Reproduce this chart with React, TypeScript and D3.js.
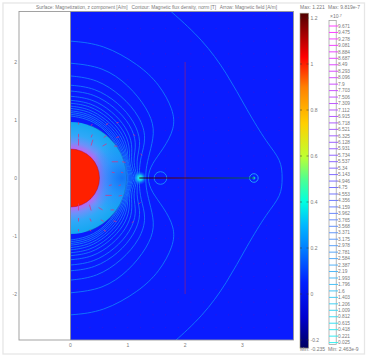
import React from "react";
import * as d3 from "d3";

const title = "Surface: Magnetization, z component [A/m]   Contour: Magnetic flux density, norm [T]   Arrow: Magnetic field [A/m]";
const xTicks = [0, 1, 2, 3];
const yTicks = [-2, -1, 0, 1, 2];
const barTicks = [1.2, 1, 0.8, 0.6, 0.4, 0.2, 0, -0.2];
const barStops: [number, string][] = [
  [1.221, "#500000"], [1.03, "#ff0000"], [0.9, "#ff8000"], [0.74, "#ffd000"], [0.6, "#c0ff30"],
  [0.5, "#50ff90"], [0.4, "#00ffe0"], [0.3, "#00b8ff"], [0.2, "#0080ff"], [0.05, "#0020ff"],
  [-0.1, "#0000d0"], [-0.235, "#000060"],
];
const contourLabels = ["9.671","9.475","9.278","9.081","8.884","8.687","8.49","8.293","8.096","7.9","7.703","7.506","7.309","7.112","6.915","6.718","6.521","6.325","6.128","5.931","5.734","5.537","5.34","5.143","4.946","4.75","4.553","4.356","4.159","3.962","3.765","3.568","3.371","3.175","2.978","2.781","2.584","2.387","2.19","1.993","1.796","1.6","1.403","1.206","1.009","0.812","0.615","0.418","0.221","0.025"];

// upper-half contours in data coordinates, mirrored across y = 0 when drawn
const contours: [number, number][][] = [
  [[1.6, 3.0], [1.77, 2.86], [2.31, 2.38], [2.73, 1.81], [3.08, 1.17], [3.43, 0.6], [3.68, 0.31], [3.7, 0]],
  [[0, 2.36], [0.57, 2.31], [1.2, 1.95], [1.55, 1.62], [1.8, 1.17], [1.82, 0.85], [1.62, 0.5], [1.42, 0.25], [1.33, 0]],
  [[0, 1.98], [0.57, 1.92], [1.02, 1.6], [1.34, 1.2], [1.48, 0.85], [1.4, 0.5], [1.32, 0.2], [1.31, 0]],
  [[0, 1.76], [0.46, 1.71], [0.9, 1.42], [1.22, 1.05], [1.33, 0.68], [1.22, 0.36], [1.2, 0.1], [1.2, 0]],
  [[0, 1.6], [0.42, 1.56], [0.84, 1.3], [1.12, 0.97], [1.24, 0.62], [1.15, 0.34], [1.17, 0.1], [1.18, 0]],
  [[0, 1.5], [0.4, 1.46], [0.78, 1.22], [1.05, 0.92], [1.16, 0.6], [1.09, 0.32], [1.14, 0.1], [1.17, 0]],
  [[0, 1.41], [0.38, 1.37], [0.73, 1.15], [0.98, 0.87], [1.09, 0.57], [1.05, 0.3], [1.11, 0.1], [1.15, 0]],
  [[0, 1.34], [0.36, 1.3], [0.69, 1.09], [0.93, 0.83], [1.04, 0.55], [1.02, 0.28], [1.08, 0.1], [1.12, 0]],
  [[0, 1.29], [0.34, 1.25], [0.66, 1.05], [0.89, 0.8], [1.0, 0.53], [1.0, 0.27], [1.06, 0.1], [1.09, 0]],
  [[0, 1.24], [0.32, 1.2], [0.63, 1.01], [0.86, 0.77], [0.97, 0.51], [0.99, 0.26], [1.04, 0.1], [1.07, 0]],
  [[0, 1.2], [0.31, 1.16], [0.61, 0.98], [0.83, 0.74], [0.95, 0.49], [0.98, 0.25], [1.02, 0.1], [1.05, 0]],
  [[0, 1.16], [0.3, 1.12], [0.59, 0.95], [0.8, 0.72], [0.93, 0.47], [0.97, 0.24], [1.0, 0.1], [1.03, 0]],
  [[0, 1.13], [0.29, 1.09], [0.57, 0.93], [0.78, 0.7], [0.91, 0.46], [0.96, 0.23], [0.99, 0.1], [1.01, 0]],
  [[0, 1.1], [0.28, 1.06], [0.55, 0.91], [0.76, 0.68], [0.89, 0.45], [0.95, 0.22], [0.98, 0.1], [1.0, 0]],
  [[0, 1.07], [0.27, 1.03], [0.54, 0.89], [0.74, 0.67], [0.88, 0.44], [0.95, 0.21], [0.97, 0.1], [0.99, 0]],
];

const arrowXs = [0.12, 0.34, 0.56, 0.78, 1.0, 1.22, 1.44, 1.66, 1.88, 2.1, 2.32, 2.54, 2.76, 2.98, 3.2, 3.42, 3.64, 3.86];
const arrowYs = [2.8, 2.58, 2.36, 2.14, 1.92, 1.7, 1.48, 1.26, 1.04, 0.82, 0.6, 0.38, 0.16, -0.16, -0.38, -0.6, -0.82, -1.04, -1.26, -1.48, -1.7, -1.92, -2.14, -2.36, -2.58, -2.8];
// strong field arrows: x, y, dx, dy in data units
const strongArrows: [number, number, number, number][] = [
  [0.14, 0.92, 0, 0.04], [0.36, 0.9, 0.02, 0.03], [0.62, 0.92, 0.04, 0.02], [0.8, 0.95, 0.04, 0.01],
  [0.14, 0.7, 0, 0.06], [0.36, 0.7, 0.02, 0.05], [0.58, 0.7, 0.05, 0.03], [0.8, 0.7, 0.05, 0.01],
  [0.14, 0.56, 0, 0.12], [0.36, 0.56, 0.03, 0.1], [0.56, 0.55, 0.07, 0.04], [0.76, 0.55, 0.06, 0],
  [0.72, 0.28, 0.11, 0], [0.9, 0.28, 0.06, -0.01], [0.72, 0.1, 0.05, -0.01], [0.88, 0.1, 0.04, -0.01],
  [0.72, -0.12, -0.05, -0.01], [0.88, -0.12, -0.04, -0.01], [0.72, -0.3, -0.11, 0], [0.9, -0.3, -0.06, -0.01],
  [0.14, -0.56, 0, 0.12], [0.36, -0.56, -0.03, 0.1], [0.56, -0.55, -0.07, 0.04], [0.76, -0.55, -0.06, 0],
  [0.14, -0.75, 0, 0.06], [0.36, -0.75, -0.02, 0.05], [0.58, -0.75, -0.05, 0.03], [0.8, -0.75, -0.05, 0.01],
  [0.14, -0.92, 0, 0.04], [0.36, -0.92, -0.02, 0.03], [0.62, -0.92, -0.04, 0.02],
  [1.1, 0.75, 0.03, -0.02], [1.22, 0.42, 0.03, -0.03], [1.1, -0.75, -0.03, -0.02], [1.22, -0.42, -0.03, -0.03],
];

const x = d3.scaleLinear().domain([0, 1]).range([70.5, 127.8]);
const y = d3.scaleLinear().domain([0, 1]).range([178, 120]);
const yBar = d3.scaleLinear().domain([-0.2, 1.2]).range([340, 18]);
const yLevel = d3.scalePoint<string>().domain(contourLabels).range([26, 342.6]);
const levelColor = d3.scaleLinear<string>()
  .domain([0, 0.5, 1])
  .range(["#ff40ff", "#7a70ff", "#30f0f0"]);
const line = d3.line<[number, number]>().x((p) => x(p[0])).y((p) => y(p[1])).curve(d3.curveBasis);

const GRAY = "#7a7a7a";
const FONT = "'Liberation Sans', Arial, sans-serif";

export default function App() {
  const mirrored = (c: [number, number][]) => [...c, ...c.slice(0, -1).reverse().map((p) => [p[0], -p[1]] as [number, number])];
  const barTop = yBar(1.221);
  const barBot = yBar(-0.235);
  return (
    <svg width={367} height={357} style={{ position: "fixed", left: 0, top: 0, background: "#fff" }} fontFamily={FONT}>
      <defs>
        <clipPath id="plot"><rect x={70.5} y={11.5} width={223} height={328.5} /></clipPath>
        <clipPath id="shellClip"><circle cx={x(0)} cy={y(0)} r={56} /></clipPath>
        <linearGradient id="bar" x1="0" y1={barTop} x2="0" y2={barBot} gradientUnits="userSpaceOnUse">
          {barStops.map(([v, c]) => (
            <stop key={v} offset={(yBar(v) - barTop) / (barBot - barTop)} stopColor={c} />
          ))}
        </linearGradient>
        <radialGradient id="shell" gradientUnits="userSpaceOnUse" cx={x(0)} cy={y(0)} r={57}>
          <stop offset="0.5" stopColor="#c860f0" />
          <stop offset="0.62" stopColor="#7090fa" />
          <stop offset="0.76" stopColor="#30a8f8" />
          <stop offset="1" stopColor="#10a8f0" />
        </radialGradient>
        <radialGradient id="equator" gradientUnits="userSpaceOnUse" cx={x(0.9)} cy={y(0)} r={36}>
          <stop offset="0" stopColor="#1060f8" stopOpacity="0.75" />
          <stop offset="0.55" stopColor="#2088ff" stopOpacity="0.5" />
          <stop offset="1" stopColor="#2088ff" stopOpacity="0" />
        </radialGradient>
        <radialGradient id="glow">
          <stop offset="0" stopColor="#40ffe0" />
          <stop offset="0.4" stopColor="#10c0f0" />
          <stop offset="1" stopColor="#1060ff" stopOpacity="0" />
        </radialGradient>
        <linearGradient id="wire" x1={x(1.2)} x2={x(3.2)} y1="0" y2="0" gradientUnits="userSpaceOnUse">
          <stop offset="0" stopColor="#200010" />
          <stop offset="0.3" stopColor="#5a0008" />
          <stop offset="0.65" stopColor="#204020" />
          <stop offset="1" stopColor="#006060" />
        </linearGradient>
      </defs>

      <rect x={3} y={3} width={361.5} height={351} fill="none" stroke="#e6e6e6" strokeWidth={1.3} />
      <text x={36} y={9} fontSize={4.8} fill={GRAY} textLength={241} xmlSpace="preserve">{title}</text>

      <rect x={19} y={11.5} width={274.5} height={328.5} fill="#fff" />
      <rect x={70.5} y={11.5} width={223} height={328.5} fill="#0a1cff" />

      <g clipPath="url(#plot)">
        <g fill="#5a10c8">
          {arrowYs.flatMap((ay) => arrowXs.map((ax) => (
            <rect key={`${ax}_${ay}`} x={x(ax) - 0.5} y={y(ay) - 0.5} width={1} height={1} opacity={0.45} />
          )))}
        </g>
        <g fill="none" strokeWidth={0.8}>
          {contours.map((c, i) => (
            <path key={i} d={line(mirrored(c)) ?? ""} stroke={i < 3 ? "#1488fa" : "#1a84fa"} />
          ))}
        </g>
        <circle cx={x(0)} cy={y(0)} r={56} fill="url(#shell)" />
        <g clipPath="url(#shellClip)">
          <circle cx={x(0.9)} cy={y(0)} r={36} fill="url(#equator)" />
        </g>
        <path d={d3.arc()({ innerRadius: 55.7, outerRadius: 56.3, startAngle: 0.3, endAngle: 2.85 }) ?? ""}
          transform={`translate(${x(0)},${y(0)})`} fill="#1c58a8" opacity={0.55} />
        <circle cx={x(0)} cy={y(0)} r={29} fill="#ff2000" stroke="#8a1040" strokeWidth={0.4} />
        <line x1={x(2)} x2={x(2)} y1={y(2)} y2={y(-2)} stroke="#a8206a" strokeWidth={0.6} />
        <circle cx={x(1.21)} cy={y(0)} r={7} fill="url(#glow)" />
        <circle cx={x(1.57)} cy={y(0)} r={6.3} fill="none" stroke="#1c90fa" strokeWidth={0.9} />
        <circle cx={x(3.2)} cy={y(0)} r={4.3} fill="none" stroke="#20a0fa" strokeWidth={1} />
        <circle cx={x(3.2)} cy={y(0)} r={1.6} fill="#18b8d8" />
        <line x1={x(1.2)} x2={x(3.2)} y1={y(0)} y2={y(0)} stroke="url(#wire)" strokeWidth={1.1} />
        <g stroke="#e03080" strokeWidth={0.9} opacity={0.8}>
          {strongArrows.map(([ax, ay, dx, dy], i) => (
            <line key={i} x1={x(ax)} y1={y(ay)} x2={x(ax + dx)} y2={y(ay + dy)} />
          ))}
        </g>
      </g>

      <rect x={19} y={11.5} width={274.5} height={328.5} fill="none" stroke="#999" strokeWidth={0.9} />
      <line x1={70.5} x2={70.5} y1={11.5} y2={340} stroke="#8a8a9a" strokeWidth={0.9} />
      <g fontSize={5} fill={GRAY}>
        {xTicks.map((t) => <text key={t} x={x(t)} y={347} textAnchor="middle">{t}</text>)}
        {yTicks.map((t) => <text key={t} x={17} y={y(t) + 1.8} textAnchor="end">{t}</text>)}
      </g>

      <rect x={300} y={barTop} width={8.6} height={barBot - barTop} fill="url(#bar)" stroke="#a09a80" strokeWidth={0.6} />
      <g fontSize={5} fill={GRAY}>
        {barTicks.map((t) => (
          <g key={t}>
            <line x1={300} x2={302} y1={yBar(t)} y2={yBar(t)} stroke="#333" strokeWidth={0.5} />
            <line x1={306.5} x2={308.6} y1={yBar(t)} y2={yBar(t)} stroke="#333" strokeWidth={0.5} />
            <text x={310.5} y={yBar(t) + 1.8}>{t}</text>
          </g>
        ))}
        <text x={300} y={9}>Max: 1.221</text>
        <text x={328} y={9}>Max: 9.819e-7</text>
        <text x={330} y={18}>×10<tspan dy={-1.5} fontSize={3.6}>-7</tspan></text>
        <text x={300} y={351}>Min: -0.235</text>
        <text x={328} y={351}>Min: 2.463e-9</text>
      </g>

      <rect x={329} y={20.5} width={7.2} height={324} fill="#fff" stroke="#999" strokeWidth={0.7} />
      {contourLabels.map((l, i) => (
        <g key={l}>
          <line x1={329} x2={338} y1={yLevel(l)} y2={yLevel(l)} stroke={levelColor(i / (contourLabels.length - 1))} strokeWidth={1} />
          <text x={338} y={(yLevel(l) ?? 0) + 1.7} fontSize={4.8} fill={GRAY}>{l}</text>
        </g>
      ))}
    </svg>
  );
}
